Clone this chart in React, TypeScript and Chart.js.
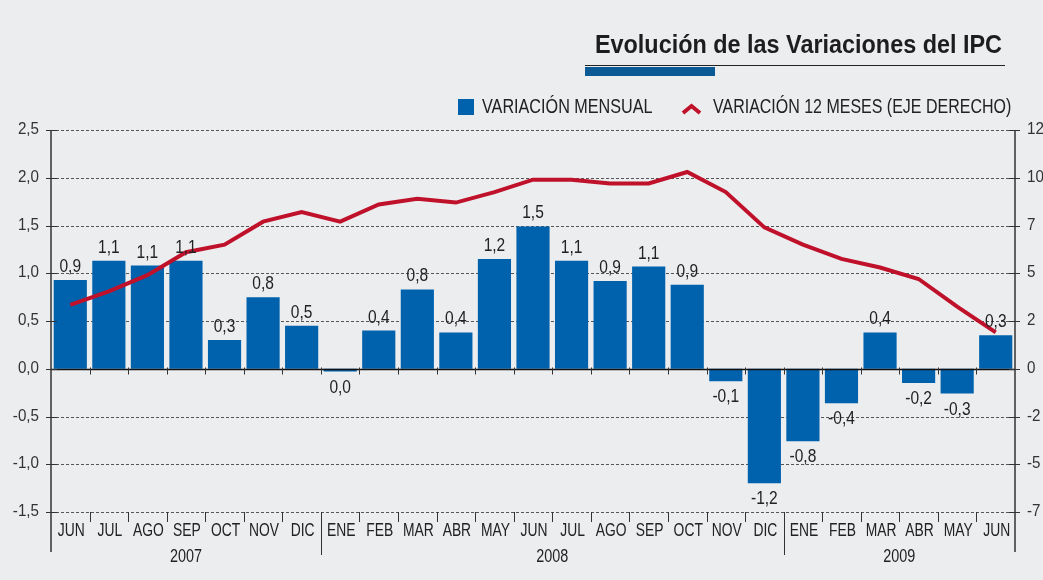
import React, { useEffect, useRef } from "react";
import { Chart, registerables } from "chart.js";

Chart.register(...registerables);

const months = ["JUN", "JUL", "AGO", "SEP", "OCT", "NOV", "DIC", "ENE", "FEB", "MAR", "ABR", "MAY", "JUN", "JUL", "AGO", "SEP", "OCT", "NOV", "DIC", "ENE", "FEB", "MAR", "ABR", "MAY", "JUN"];
const yearLabels = ["2007", "2008", "2009"];
const yearMonthCounts = [7, 12, 6];
const monthly = [0.93, 1.13, 1.08, 1.13, 0.3, 0.75, 0.45, -0.03, 0.4, 0.83, 0.38, 1.15, 1.49, 1.13, 0.92, 1.07, 0.88, -0.13, -1.2, -0.76, -0.36, 0.38, -0.15, -0.26, 0.35];
const monthlyLabels = ["0,9", "1,1", "1,1", "1,1", "0,3", "0,8", "0,5", "0,0", "0,4", "0,8", "0,4", "1,2", "1,5", "1,1", "0,9", "1,1", "0,9", "-0,1", "-1,2", "-0,8", "-0,4", "0,4", "-0,2", "-0,3", "0,3"];
const annual = [3.35, 4.05, 4.9, 6.1, 6.5, 7.7, 8.2, 7.7, 8.6, 8.9, 8.7, 9.25, 9.9, 9.9, 9.7, 9.7, 10.3, 9.25, 7.4, 6.5, 5.75, 5.3, 4.7, 3.25, 1.9];
const title = "Evolución de las Variaciones del IPC";
const legendMonthly = "VARIACIÓN MENSUAL";
const legendAnnual = "VARIACIÓN 12 MESES (EJE DERECHO)";

const FONT = '"Liberation Sans", Arial, sans-serif';
const BLUE = "#0062ad";
const RED = "#c0112b";
const BG = "#ecedef";
const TEXT = "#222222";

const fmtLeft = (v: number) => v.toFixed(1).replace(".", ",");
const fmtRight = (v: number) => String(Math.trunc(v));

function drawText(
  ctx: CanvasRenderingContext2D,
  s: string,
  x: number,
  y: number,
  size: number,
  sx: number,
  align: CanvasTextAlign,
  bold = false
) {
  ctx.save();
  ctx.font = `${bold ? "bold " : ""}${size}px ${FONT}`;
  ctx.textAlign = align;
  ctx.textBaseline = "alphabetic";
  ctx.translate(x, y);
  ctx.scale(sx, 1);
  ctx.fillText(s, 0, 0);
  ctx.restore();
}

const decoPlugin = {
  id: "deco",
  beforeDraw(chart: any) {
    const ctx = chart.ctx;
    ctx.save();
    ctx.fillStyle = BG;
    ctx.fillRect(0, 0, chart.width, chart.height);
    ctx.restore();
  },
  beforeDatasetsDraw(chart: any) {
    const ctx = chart.ctx;
    const y = chart.scales.y;
    const { left, right } = chart.chartArea;
    ctx.save();
    ctx.strokeStyle = "#555";
    ctx.lineWidth = 1;
    ctx.setLineDash([3, 2]);
    y.ticks.forEach((t: any) => {
      if (t.value === 0) return;
      const py = Math.round(y.getPixelForValue(t.value)) + 0.5;
      ctx.beginPath();
      ctx.moveTo(left, py);
      ctx.lineTo(right, py);
      ctx.stroke();
    });
    ctx.restore();
  },
  afterDatasetsDraw(chart: any) {
    const ctx = chart.ctx;
    const x = chart.scales.x;
    const y = chart.scales.y;
    const y1 = chart.scales.y1;
    const { left, right, top, bottom } = chart.chartArea;
    const zeroY = Math.round(y.getPixelForValue(0)) + 0.5;
    ctx.save();
    // zero line
    ctx.strokeStyle = "#111";
    ctx.lineWidth = 1.5;
    ctx.beginPath();
    ctx.moveTo(left, zeroY);
    ctx.lineTo(right, zeroY);
    ctx.stroke();
    // axis lines
    ctx.strokeStyle = "#333";
    ctx.lineWidth = 1.5;
    ctx.beginPath();
    ctx.moveTo(left, top);
    ctx.lineTo(left, bottom + 40);
    ctx.moveTo(right, top);
    ctx.lineTo(right, bottom + 40);
    ctx.stroke();
    // axis tick marks
    ctx.lineWidth = 1;
    y.ticks.forEach((t: any) => {
      const py = Math.round(y.getPixelForValue(t.value)) + 0.5;
      ctx.beginPath();
      ctx.moveTo(left - 5, py);
      ctx.lineTo(left + 6, py);
      ctx.moveTo(right - 6, py);
      ctx.lineTo(right + 5, py);
      ctx.stroke();
    });
    // category boundary ticks
    const yearStarts: number[] = [];
    let acc = 0;
    yearMonthCounts.forEach((c) => {
      yearStarts.push(acc);
      acc += c;
    });
    for (let i = 1; i < months.length; i++) {
      const bx = Math.round(x.getPixelForValue(i - 0.5)) + 0.5;
      const isYear = yearStarts.includes(i);
      ctx.beginPath();
      ctx.moveTo(bx, bottom);
      ctx.lineTo(bx, bottom + (isYear ? 43 : 10));
      ctx.moveTo(bx, zeroY - 2);
      ctx.lineTo(bx, zeroY + 5);
      ctx.stroke();
    }
    ctx.fillStyle = "#333";
    // y tick labels
    y.ticks.forEach((t: any) => {
      const py = y.getPixelForValue(t.value);
      drawText(ctx, fmtLeft(t.value), left - 12, py + 4, 16.5, 0.92, "right");
    });
    y1.ticks.forEach((t: any) => {
      const py = y1.getPixelForValue(t.value);
      drawText(ctx, fmtRight(t.value), right + 12, py + 4, 16.5, 0.92, "left");
    });
    ctx.fillStyle = TEXT;
    // month labels
    months.forEach((m, i) => {
      drawText(ctx, m, x.getPixelForValue(i) + 1, bottom + 24, 18, 0.77, "center");
    });
    // year labels
    yearLabels.forEach((yl, k) => {
      const s = yearStarts[k];
      const e = s + yearMonthCounts[k] - 1;
      const cx = (x.getPixelForValue(s - 0.5) + x.getPixelForValue(e + 0.5)) / 2;
      drawText(ctx, yl, cx, bottom + 50, 18, 0.8, "center");
    });
    // bar value labels
    const meta = chart.getDatasetMeta(0);
    meta.data.forEach((bar: any, i: number) => {
      const v = monthly[i];
      const ty = v >= 0 ? bar.y - 8 : bar.y + 21;
      drawText(ctx, monthlyLabels[i], bar.x, ty, 18.5, 0.84, "center");
    });
    // title
    ctx.fillStyle = "#1d1d1f";
    drawText(ctx, title, 1002, 53, 26, 0.9, "right", true);
    ctx.strokeStyle = "#222";
    ctx.lineWidth = 1;
    ctx.beginPath();
    ctx.moveTo(585, 65.5);
    ctx.lineTo(1005, 65.5);
    ctx.stroke();
    ctx.fillStyle = "#0b5a96";
    ctx.fillRect(585, 67, 130, 9);
    // legend
    ctx.fillStyle = BLUE;
    ctx.fillRect(458, 99, 16, 16);
    ctx.fillStyle = TEXT;
    drawText(ctx, legendMonthly, 482, 113, 19.5, 0.83, "left");
    ctx.strokeStyle = RED;
    ctx.lineWidth = 4;
    ctx.lineJoin = "miter";
    ctx.beginPath();
    ctx.moveTo(683, 113);
    ctx.lineTo(691.5, 106);
    ctx.lineTo(700, 113);
    ctx.stroke();
    drawText(ctx, legendAnnual, 713, 113, 19.5, 0.82, "left");
    ctx.restore();
  },
};

export default function App() {
  const ref = useRef<HTMLCanvasElement>(null);
  useEffect(() => {
    document.body.style.margin = "0";
    document.body.style.background = BG;
    const chart = new Chart(ref.current as HTMLCanvasElement, {
      type: "bar",
      data: {
        labels: months,
        datasets: [
          {
            type: "bar",
            label: legendMonthly,
            data: monthly,
            backgroundColor: BLUE,
            yAxisID: "y",
            barPercentage: 0.86,
            categoryPercentage: 1,
            order: 2,
          } as any,
          {
            type: "line",
            label: legendAnnual,
            data: annual,
            borderColor: RED,
            borderWidth: 4,
            pointRadius: 0,
            tension: 0,
            yAxisID: "y1",
            order: 1,
          } as any,
        ],
      },
      options: {
        animation: false,
        responsive: false,
        layout: { padding: { top: 130, bottom: 68, left: 0, right: 0 } },
        plugins: { legend: { display: false }, tooltip: { enabled: false } },
        scales: {
          x: { display: false },
          y: {
            position: "left",
            min: -1.5,
            max: 2.5,
            ticks: { stepSize: 0.5, display: false },
            grid: { display: false, drawTicks: false },
            border: { display: false },
            afterFit: (s: any) => {
              s.width = 51;
            },
          },
          y1: {
            position: "right",
            min: -7.5,
            max: 12.5,
            ticks: { stepSize: 2.5, display: false },
            grid: { display: false, drawTicks: false },
            border: { display: false },
            afterFit: (s: any) => {
              s.width = 28;
            },
          },
        },
      },
      plugins: [decoPlugin],
    } as any);
    return () => chart.destroy();
  }, []);
  return (
    <div style={{ position: "absolute", left: 0, top: 0, width: 1043, height: 580 }}>
      <canvas ref={ref} width={1043} height={580} />
    </div>
  );
}
